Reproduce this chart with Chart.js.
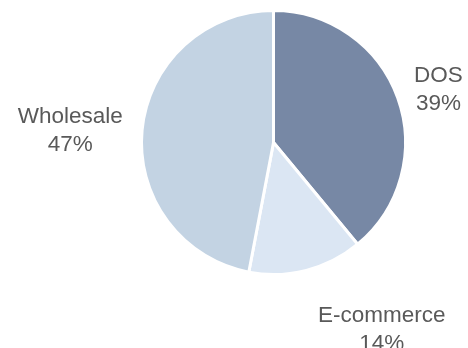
<!DOCTYPE html>
<html>
<head>
<meta charset="utf-8">
<script src="https://cdn.jsdelivr.net/npm/chart.js@4/dist/chart.umd.min.js"></script>
<style>
  html, body { margin: 0; padding: 0; background: #fff; }
  #wrap { width: 468px; height: 348px; }
</style>
</head>
<body>
<div id="wrap"><canvas id="pieChart" width="468" height="348"></canvas></div>
<script>
// Dados do gráfico
const labels = ['DOS', 'E-commerce', 'Wholesale'];
const shares = [39, 14, 47];
const colors = ['#7788a5', '#dbe6f3', '#c3d3e3'];

// posição dos rótulos relativa ao centro, em unidades de raio
const labelOffsets = [[1.25, -0.455], [0.82, 1.36], [-1.54, -0.15]];

const outsideLabels = {
    id: 'outsideLabels',
    afterDatasetsDraw(chart) {
        const ctx = chart.ctx;
        const arcs = chart.getDatasetMeta(0).data;
        ctx.save();
        ctx.font = '22.5px "Liberation Sans", Arial, sans-serif';
        ctx.fillStyle = '#595959';
        ctx.textAlign = 'center';
        ctx.textBaseline = 'alphabetic';
        arcs.forEach((arc, i) => {
            const r = arc.outerRadius;
            const x = arc.x + labelOffsets[i][0] * r;
            const y = arc.y + labelOffsets[i][1] * r;
            ctx.fillText(labels[i], x, y);
            ctx.fillText(shares[i] + '%', x, y + 28);
        });
        ctx.restore();
    }
};

new Chart(document.getElementById('pieChart').getContext('2d'), {
    type: 'pie',
    data: {
        labels: labels,
        datasets: [{
            data: shares,
            backgroundColor: colors,
            borderColor: '#ffffff',
            borderWidth: 3
        }]
    },
    options: {
        responsive: false,
        animation: false,
        layout: { padding: { top: 9, bottom: 72, left: 140, right: 61 } },
        plugins: {
            legend: { display: false },
            tooltip: { enabled: false }
        }
    },
    plugins: [outsideLabels]
});
</script>
</body>
</html>
